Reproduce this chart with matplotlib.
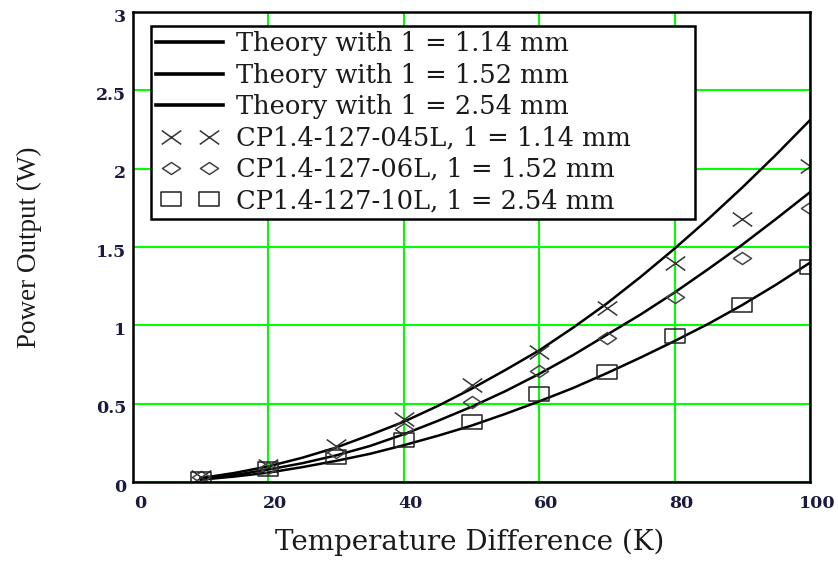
import matplotlib.pyplot as plt
from matplotlib.path import Path
from matplotlib.legend_handler import HandlerLine2D
from matplotlib.transforms import ScaledTranslation

# datos
dT_teoria = [10, 15, 20, 25, 30, 35, 40, 45, 50, 55, 60, 65, 70, 75, 80, 85, 90, 95, 100]
teoria_114 = [0.025, 0.058, 0.10, 0.155, 0.22, 0.30, 0.385, 0.485, 0.595, 0.715, 0.84,
              0.985, 1.14, 1.31, 1.49, 1.68, 1.88, 2.09, 2.31]
teoria_152 = [0.02, 0.045, 0.08, 0.12, 0.17, 0.23, 0.305, 0.39, 0.48, 0.58, 0.69,
              0.81, 0.94, 1.07, 1.21, 1.36, 1.515, 1.68, 1.85]
teoria_254 = [0.015, 0.035, 0.06, 0.095, 0.135, 0.18, 0.235, 0.295, 0.36, 0.435, 0.515,
              0.60, 0.695, 0.795, 0.90, 1.01, 1.13, 1.26, 1.40]

dT = [10, 20, 30, 40, 50, 60, 70, 80, 90, 100]
exp_045L = [0.03, 0.10, 0.23, 0.40, 0.62, 0.83, 1.11, 1.40, 1.68, 2.02]
exp_06L = [0.03, 0.09, 0.19, 0.34, 0.51, 0.71, 0.92, 1.18, 1.43, 1.75]
exp_10L = [0.02, 0.08, 0.16, 0.27, 0.385, 0.56, 0.705, 0.93, 1.13, 1.37]

etiquetas = ["Theory with 1 = 1.14 mm", "Theory with 1 = 1.52 mm", "Theory with 1 = 2.54 mm",
             "CP1.4-127-045L, 1 = 1.14 mm", "CP1.4-127-06L, 1 = 1.52 mm", "CP1.4-127-10L, 1 = 2.54 mm"]

# marcadores un poco mas anchos que altos, como en la imagen original
cruz = Path([(-1.4, -1), (1.4, 1), (-1.4, 1), (1.4, -1)],
            [Path.MOVETO, Path.LINETO, Path.MOVETO, Path.LINETO])
rombo = Path([(-1.5, 0), (0, 1), (1.5, 0), (0, -1), (-1.5, 0)],
             [Path.MOVETO, Path.LINETO, Path.LINETO, Path.LINETO, Path.CLOSEPOLY])
cuadro = Path([(-1.4, -1), (1.4, -1), (1.4, 1), (-1.4, 1), (-1.4, -1)],
              [Path.MOVETO, Path.LINETO, Path.LINETO, Path.LINETO, Path.CLOSEPOLY])

plt.rcParams['font.family'] = ['DejaVu Serif']

fig = plt.figure(figsize=(8.38, 5.62), dpi=100)
ax = fig.add_axes([0.1587, 0.1423, 0.8079, 0.8363])

l1, = ax.plot(dT_teoria, teoria_114, color="black", lw=1.8, label=etiquetas[0])
l2, = ax.plot(dT_teoria, teoria_152, color="black", lw=1.8, label=etiquetas[1])
l3, = ax.plot(dT_teoria, teoria_254, color="black", lw=1.8, label=etiquetas[2])

p1, = ax.plot(dT, exp_045L, ls="none", marker=cruz, ms=14, mew=1.1, color="#333333", label=etiquetas[3])
p2, = ax.plot(dT, exp_06L, ls="none", marker=rombo, ms=13, mew=1.1, mfc="none", mec="#444444", label=etiquetas[4])
p3, = ax.plot(dT, exp_10L, ls="none", marker=cuadro, ms=14, mew=1.1, mfc="none", mec="#222222", label=etiquetas[5])

ax.set_xlim(0, 100)
ax.set_ylim(0, 3)
ax.set_xticks([0, 20, 40, 60, 80, 100])
ax.set_yticks([0, 0.5, 1, 1.5, 2, 2.5, 3])
ax.set_yticklabels(["0", "0.5", "1", "1.5", "2", "2.5", "3"])
ax.grid(True, color="#00ff00", lw=1.5)
ax.set_axisbelow(True)
ax.tick_params(length=0, labelsize=12.5, labelcolor="#1a1a40")
ax.tick_params(axis="x", pad=9)
ax.tick_params(axis="y", pad=5)
for lab in ax.get_xticklabels():
    lab.set_fontweight("bold")
    lab.set_transform(lab.get_transform() + ScaledTranslation(7 / 100, 0, fig.dpi_scale_trans))
for lab in ax.get_yticklabels():
    lab.set_fontweight("bold")
    lab.set_transform(lab.get_transform() + ScaledTranslation(0, -3 / 100, fig.dpi_scale_trans))
for s in ax.spines.values():
    s.set_linewidth(1.8)
    s.set_color("black")

ax.set_xlabel("Temperature Difference (K)", fontsize=20, color="#1a1a1a")
ax.xaxis.set_label_coords(0.498, -0.1)
ax.set_ylabel("Power Output (W)", fontsize=19.5, family="Liberation Serif", color="#1a1a1a")
ax.yaxis.set_label_coords(-0.135, 0.5)

lineas = HandlerLine2D(marker_pad=0)
marcas = HandlerLine2D(marker_pad=0.56)
leg = ax.legend(loc="upper left", bbox_to_anchor=(0.0266, 0.5, 0.8035, 0.47), mode="expand",
                numpoints=2, fontsize=18.5,
                frameon=True, fancybox=False, edgecolor="black", framealpha=1,
                handlelength=2.6, handletextpad=0.5, borderpad=0.2, labelspacing=0.25,
                borderaxespad=0,
                handler_map={l1: lineas, l2: lineas, l3: lineas, p1: marcas, p2: marcas, p3: marcas})
leg.get_frame().set_linewidth(1.8)
for t in leg.get_texts():
    t.set_color("#1a1a1a")
for h in leg.get_lines()[:3]:
    h.set_linewidth(2.6)

plt.savefig("out.png", dpi=100)
